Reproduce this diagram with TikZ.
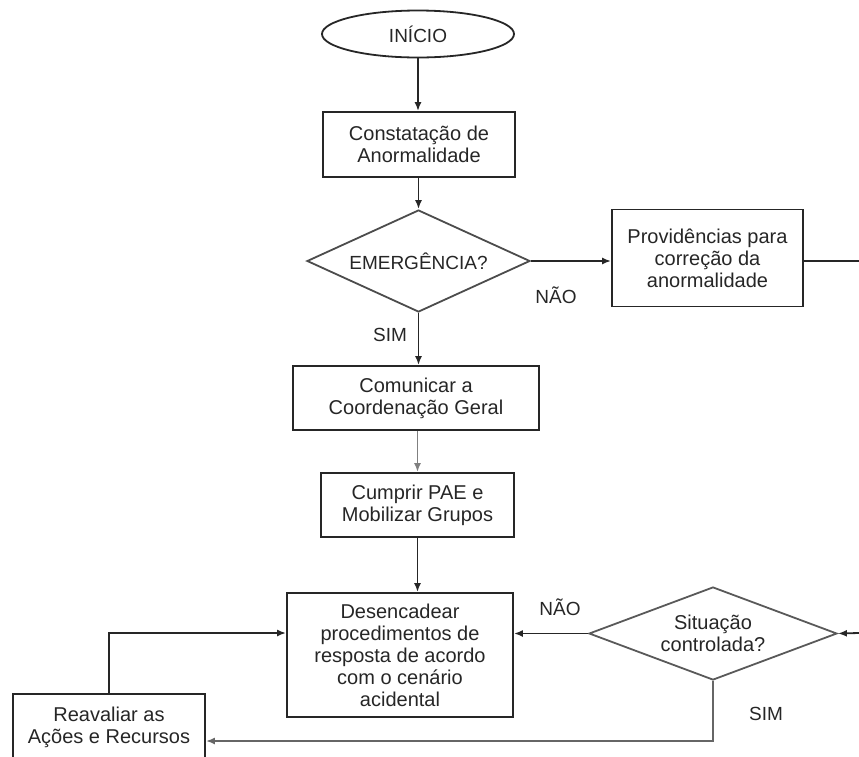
\documentclass[tikz,border=0pt]{standalone}
\usepackage{fontspec}
\setmainfont{Liberation Sans}
\usetikzlibrary{shapes.geometric,arrows.meta}
\begin{document}
\begin{tikzpicture}[x=1pt,y=-1pt,
  base/.style={draw=black!85, line width=1.8pt, inner sep=0pt, align=center,
    text=black!85, font=\fontsize{20}{22}\selectfont},
  box/.style={base, rectangle},
  oval/.style={base, ellipse},
  decision/.style={base, diamond, shape aspect=2.4},
  lbl/.style={text=black!85, font=\fontsize{19}{21}\selectfont, inner sep=0pt},
  arrow/.style={draw=black!85, line width=1.8pt, -{Latex[length=9pt,width=7pt]}},
  plain/.style={draw=black!85, line width=1.8pt}]
\useasboundingbox (0,0) rectangle (859,756);
\clip (0,0) rectangle (859,756);

\node[oval, minimum width=192pt, minimum height=47pt, font=\fontsize{19}{21}\selectfont] (start) at (418,34) {INÍCIO};
\node[box, minimum width=192pt, minimum height=65pt] (n1) at (419,144.5) {Constatação de\\Anormalidade};
\node[decision, draw=black!70, minimum width=223pt, minimum height=102pt, font=\fontsize{19}{21}\selectfont] (d1) at (418.5,261) {EMERGÊNCIA?};
\node[box, minimum width=191pt, minimum height=97pt] (p) at (707.5,258) {Providências para\\correção da\\anormalidade};
\coordinate (pout) at (859,261);
\node[box, minimum width=246pt, minimum height=64pt] (c) at (416,398) {Comunicar a\\Coordenação Geral};
\node[box, minimum width=193pt, minimum height=64pt] (m) at (417.5,505) {Cumprir PAE e\\Mobilizar Grupos};
\node[box, minimum width=226pt, minimum height=124pt] (e) at (400,655) {Desencadear\\procedimentos de\\resposta de acordo\\com o cenário\\acidental};
\node[decision, draw=black!65, shape aspect=2.6, minimum width=248pt, minimum height=93pt] (d2) at (713,633.5) {Situação\\controlada?};
\coordinate (din) at (859,633);
\node[box, minimum width=192pt, minimum height=66pt] (r) at (109,727) {Reavaliar as\\Ações e Recursos};

\node[lbl] (nao1) at (556,295) {NÃO};
\node[lbl] (sim1) at (390,335) {SIM};
\node[lbl] (nao2) at (560,607) {NÃO};
\node[lbl] (sim2) at (766,714) {SIM};

\draw[arrow] (start.south) -- (start.south |- n1.north);
\draw[arrow] (n1.south -| d1.north) -- (d1.north);
\draw[arrow] (d1.east) -- (d1.east -| p.west);
\draw[plain] (p.east |- pout) -- (pout);
\draw[arrow] (d1.south) -- (d1.south |- c.north);
\draw[arrow, draw=black!50] (m.north |- c.south) -- (m.north);
\draw[arrow] (m.south) -- (m.south |- e.north);
\draw[arrow] (d2.west) -- (d2.west -| e.east);
\draw[arrow] (din) -- (d2.east);
\draw[arrow, draw=black!60] (d2.south) |- ([yshift=-14pt]r.east);
\draw[arrow] (r.north) |- ([yshift=22pt]e.west);
\end{tikzpicture}
\end{document}
